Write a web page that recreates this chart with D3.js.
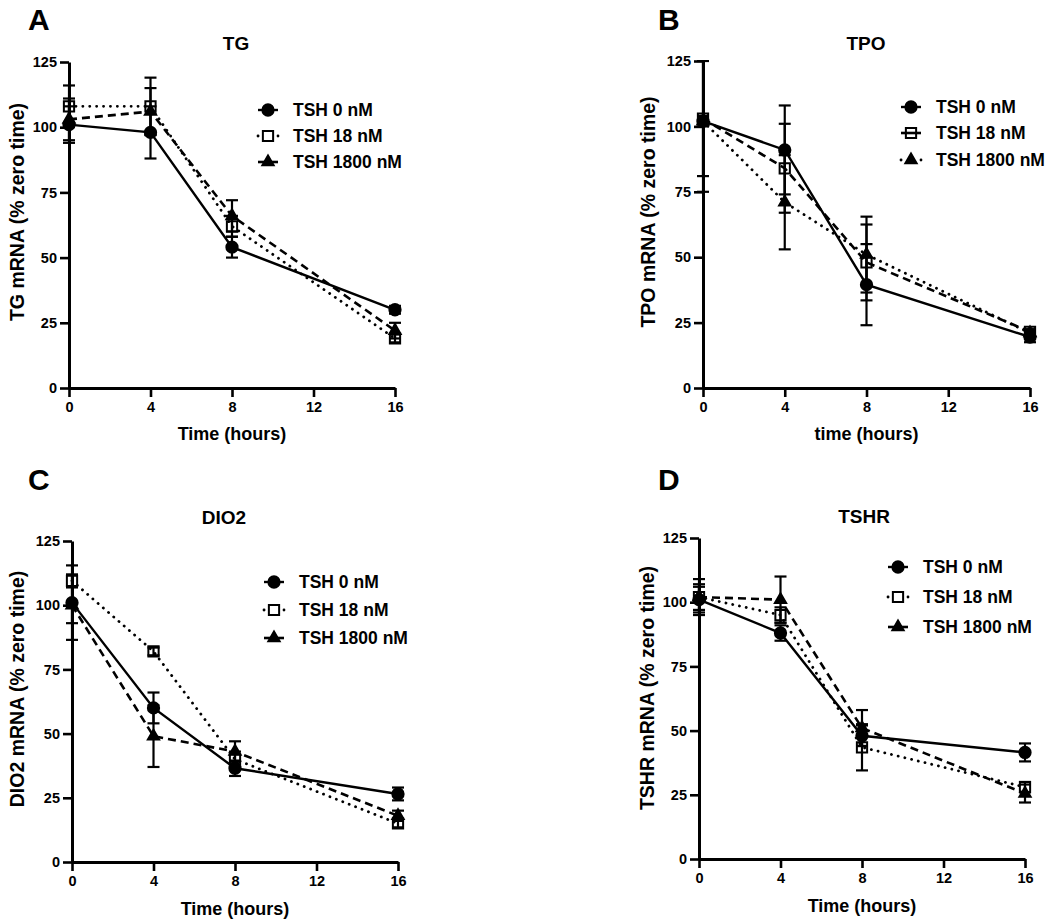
<html>
  <head>
    <meta charset="utf-8" />
    <title>TSH time course</title>
    <script src="https://d3js.org/d3.v7.min.js"></script>
    <style>
      body { margin: 0; background: #fff; }
      svg text { font-family: "Liberation Sans", Arial, sans-serif; font-weight: bold; fill: #000; }
    </style>
  </head>
  <body>
    <div id="figure"></div>
    <script type="text/javascript">
      // data (mean and error per time point)
      var hours = [0, 4, 8, 16];
      var xTicks = [0, 4, 8, 12, 16];
      var yTicks = [0, 25, 50, 75, 100, 125];
      var doses = ["TSH 0 nM", "TSH 18 nM", "TSH 1800 nM"];

      var tg0 = [101, 98, 54, 30], tg0Err = [7, 10, 4, 1.5];
      var tg18 = [108, 108, 62, 19], tg18Err = [8, 11, 4, 1.5];
      var tg1800 = [103, 106, 66, 22], tg1800Err = [8, 9, 6, 3];

      var tpo0 = [102, 91, 39.5, 19.5], tpo0Err = [2, 17, 15.5, 2];
      var tpo18 = [103, 84, 48, 21.5], tpo18Err = [22, 17, 14.5, 1];
      var tpo1800 = [102, 71, 51, 21], tpo1800Err = [27, 18, 14.5, 1];

      var dio0 = [101, 60, 36.5, 26.5], dio0Err = [14.5, 6, 3, 2.5];
      var dio18 = [109.5, 82, 40, 15], dio18Err = [2.5, 1.5, 3, 1.5];
      var dio1800 = [100, 49, 43, 18], dio1800Err = [7, 12, 4, 2];

      var tshr0 = [101, 88, 48, 41.5], tshr0Err = [5, 3, 4, 3.5];
      var tshr18 = [102, 95, 43.5, 28], tshr18Err = [7, 3, 9, 2];
      var tshr1800 = [102, 101, 51, 25.5], tshr1800Err = [5, 9, 7, 3.5];

      var width = 1050;
      var height = 923;

      var panels = [
        { letter: "A", title: "TG", ylab: "TG mRNA (% zero time)", xlab: "Time (hours)",
          box: [69, 62, 395, 388], means: [tg0, tg18, tg1800], errs: [tg0Err, tg18Err, tg1800Err],
          dash: ["solid", "dot", "dash"], legX: 268, legY: [110, 136, 162],
          titleX: 236, titleY: 50, letterX: 28, letterY: 30, yLabX: 17, yLabY: 212, xLabY: 440 },
        { letter: "B", title: "TPO", ylab: "TPO mRNA (% zero time)", xlab: "time (hours)",
          box: [703, 61, 1030, 388], means: [tpo0, tpo18, tpo1800], errs: [tpo0Err, tpo18Err, tpo1800Err],
          dash: ["solid", "dash", "dot"], legX: 911, legY: [107, 133, 160],
          titleX: 866, titleY: 50, letterX: 658, letterY: 30, yLabX: 648, yLabY: 212, xLabY: 440 },
        { letter: "C", title: "DIO2", ylab: "DIO2 mRNA (% zero time)", xlab: "Time (hours)",
          box: [72, 541, 398, 862], means: [dio0, dio18, dio1800], errs: [dio0Err, dio18Err, dio1800Err],
          dash: ["solid", "dot", "dash"], legX: 274, legY: [582, 610, 638],
          titleX: 224, titleY: 524, letterX: 28, letterY: 490, yLabX: 17, yLabY: 689, xLabY: 915 },
        { letter: "D", title: "TSHR", ylab: "TSHR mRNA (% zero time)", xlab: "Time (hours)",
          box: [699, 538, 1025, 859], means: [tshr0, tshr18, tshr1800], errs: [tshr0Err, tshr18Err, tshr1800Err],
          dash: ["solid", "dot", "dash"], legX: 898, legY: [567, 597, 627],
          titleX: 864, titleY: 523, letterX: 658, letterY: 490, yLabX: 647, yLabY: 688, xLabY: 912 }
      ];

      var dashes = { solid: null, dot: "0.1,6.8", dash: "8,5" };
      var widths = { solid: 2.4, dot: 2.8, dash: 2.6 };
      var symbols = [d3.symbolCircle, d3.symbolSquare, d3.symbolTriangle];
      var symbolSizes = [100, 105, 55];
      var fills = ["#000", "none", "#000"];

      var svg = d3
        .select("#figure")
        .append("svg")
        .attr("width", width)
        .attr("height", height);

      panels.forEach(function (p, pi) {
        var x = d3.scaleLinear().domain([0, 16]).range([p.box[0], p.box[2]]);
        var y = d3.scaleLinear().domain([0, 125]).range([p.box[3], p.box[1]]);
        var g = svg.append("g");

        var clipId = "clip" + pi;
        svg.append("clipPath").attr("id", clipId)
          .append("rect")
          .attr("x", p.box[0] - 20).attr("y", p.box[1] - 1)
          .attr("width", p.box[2] - p.box[0] + 40).attr("height", p.box[3] - p.box[1] + 2);

        // axes
        var yAxis = g.append("g")
          .attr("transform", "translate(" + p.box[0] + ",0)")
          .call(d3.axisLeft(y).tickValues(yTicks).tickSize(9).tickPadding(3).tickSizeOuter(0));
        var xAxis = g.append("g")
          .attr("transform", "translate(0," + p.box[3] + ")")
          .call(d3.axisBottom(x).tickValues(xTicks).tickSize(9).tickPadding(5).tickSizeOuter(0));
        [xAxis, yAxis].forEach(function (a) {
          a.select(".domain").attr("stroke", "#000").attr("stroke-width", 3);
          a.selectAll(".tick line").attr("stroke", "#000").attr("stroke-width", 2.6);
          a.selectAll(".tick text").style("font-size", "14.5px").style("font-weight", "bold")
            .style("font-family", "'Liberation Sans', Arial, sans-serif").attr("fill", "#000");
        });

        // lines
        var line = d3.line()
          .x(function (d, i) { return x(hours[i]); })
          .y(function (d) { return y(d); });
        p.means.forEach(function (m, si) {
          g.append("path")
            .datum(m)
            .attr("d", line)
            .attr("fill", "none")
            .attr("stroke", "#000")
            .attr("stroke-width", widths[p.dash[si]])
            .attr("stroke-linecap", p.dash[si] === "dot" ? "round" : "butt")
            .attr("stroke-dasharray", dashes[p.dash[si]]);
        });

        // error bars
        p.means.forEach(function (m, si) {
          var eg = g.append("g").attr("clip-path", "url(#" + clipId + ")");
          m.forEach(function (v, i) {
            var e = p.errs[si][i];
            var cx = x(hours[i]);
            eg.append("line")
              .attr("x1", cx).attr("x2", cx)
              .attr("y1", y(v - e)).attr("y2", y(v + e))
              .attr("stroke", "#000").attr("stroke-width", 2.2);
            [v - e, v + e].forEach(function (c) {
              eg.append("line")
                .attr("x1", cx - 6).attr("x2", cx + 6)
                .attr("y1", y(c)).attr("y2", y(c))
                .attr("stroke", "#000").attr("stroke-width", 2.2);
            });
          });
        });

        // markers
        p.means.forEach(function (m, si) {
          g.selectAll(null)
            .data(m)
            .enter()
            .append("path")
            .attr("d", d3.symbol().type(symbols[si]).size(symbolSizes[si]))
            .attr("transform", function (d, i) {
              return "translate(" + x(hours[i]) + "," + y(d) + ")";
            })
            .attr("fill", fills[si])
            .attr("stroke", "#000")
            .attr("stroke-width", 2);
        });

        // texts
        g.append("text").attr("x", p.letterX).attr("y", p.letterY)
          .style("font-size", "30px").text(p.letter);
        g.append("text").attr("x", p.titleX).attr("y", p.titleY)
          .attr("text-anchor", "middle").style("font-size", "19px").text(p.title);
        g.append("text").attr("x", (p.box[0] + p.box[2]) / 2).attr("y", p.xLabY)
          .attr("text-anchor", "middle").style("font-size", "18px").text(p.xlab);
        g.append("text")
          .attr("transform", "translate(" + p.yLabX + "," + p.yLabY + ") rotate(-90)")
          .attr("text-anchor", "middle").attr("dominant-baseline", "central")
          .style("font-size", "19.5px").text(p.ylab);

        // legend
        doses.forEach(function (name, si) {
          var ly = p.legY[si];
          var kind = p.dash[si];
          g.append("line")
            .attr("x1", p.legX - 10).attr("x2", p.legX + 10)
            .attr("y1", ly).attr("y2", ly)
            .attr("stroke", "#000").attr("stroke-width", widths[kind])
            .attr("stroke-linecap", kind === "dot" ? "round" : "butt")
            .attr("stroke-dasharray", kind === "dot" ? "0.1,19.9" : null);
          g.append("path")
            .attr("d", d3.symbol().type(symbols[si]).size(symbolSizes[si]))
            .attr("transform", "translate(" + p.legX + "," + ly + ")")
            .attr("fill", fills[si]).attr("stroke", "#000").attr("stroke-width", 2);
          g.append("text").attr("x", p.legX + 25).attr("y", ly)
            .attr("dominant-baseline", "central").style("font-size", "17.5px").text(name);
        });
      });
    </script>
  </body>
</html>
